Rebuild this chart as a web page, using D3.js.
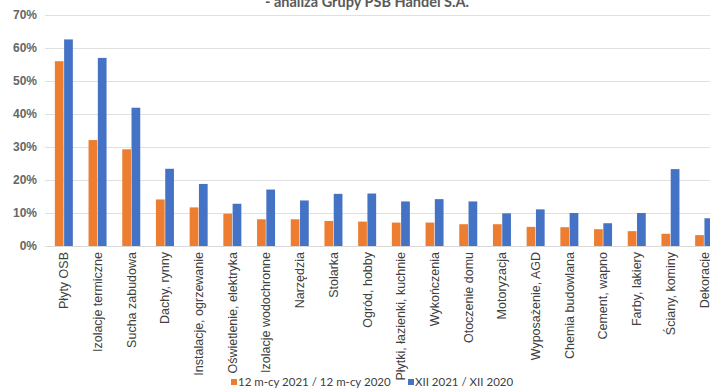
<!DOCTYPE html>
<html>
<head>
<meta charset="utf-8">
<script src="https://cdn.jsdelivr.net/npm/d3@7"></script>
<style>
  body { margin: 0; background: #fff; }
  svg { display: block; font-family: Lato, "Open Sans", sans-serif; }
</style>
</head>
<body>
<script>
const [W, H] = [710, 392];

const categories = ['Płyty OSB', 'Izolacje termiczne', 'Sucha zabudowa', 'Dachy, rynny',
    'Instalacje, ogrzewanie', 'Oświetlenie, elektryka', 'Izolacje wodochronne', 'Narzędzia',
    'Stolarka', 'Ogród, hobby', 'Płytki, łazienki, kuchnie', 'Wykończenia', 'Otoczenie domu',
    'Motoryzacja', 'Wyposażenie, AGD', 'Chemia budowlana', 'Cement, wapno', 'Farby, lakiery',
    'Ściany, kominy', 'Dekoracje'];
const yearly = [56.0, 32.1, 29.3, 14.1, 11.7, 9.8, 8.1, 8.1, 7.6, 7.4, 7.1, 7.1, 6.6, 6.6, 5.8, 5.7, 5.1, 4.5, 3.7, 3.3];
const december = [62.6, 57.0, 41.9, 23.4, 18.8, 12.8, 17.1, 13.8, 15.8, 15.9, 13.5, 14.2, 13.5, 9.9, 11.1, 10.0, 6.9, 10.0, 23.3, 8.4];
const seriesNames = ['12 m-cy 2021 / 12 m-cy 2020', 'XII 2021 / XII 2020'];
const yTicks = [0, 10, 20, 30, 40, 50, 60, 70];
const colors = ['#ED7D31', '#4472C4'];

function main() {
    const svg = d3.select('body').append('svg').attr('width', W).attr('height', H);

    const x = d3.scaleBand().domain(categories).range([47, 721]);
    const sub = d3.scaleBand().domain([0, 1]).range([x.bandwidth() / 2 - 9, x.bandwidth() / 2 + 9]).paddingInner(0.06);
    const y = d3.scaleLinear().domain([0, 70]).range([246, 15]);

    // title (top of it is cropped in the original)
    svg.append('text')
        .attr('x', 367).attr('y', 7)
        .attr('text-anchor', 'middle')
        .style('font-weight', 'bold').style('font-size', '14.5px').style('fill', '#595959')
        .text('- analiza Grupy PSB Handel S.A.');

    // grid + y labels
    const yAxis = svg.append('g').attr('transform', 'translate(45,0)')
        .call(d3.axisLeft(y).tickValues(yTicks).tickSize(-680).tickFormat(d => d + '%'));
    yAxis.select('.domain').remove();
    yAxis.selectAll('.tick line').attr('stroke', '#e0e0e0');
    yAxis.selectAll('.tick text')
        .attr('x', -8)
        .style('font-size', '12px').style('font-weight', 'bold').style('fill', '#666');

    // bars
    const groups = svg.selectAll('.cat').data(categories).enter()
        .append('g').attr('transform', d => 'translate(' + x(d) + ',0)');
    [yearly, december].forEach((vals, s) => {
        groups.append('rect')
            .attr('x', sub(s))
            .attr('width', sub.bandwidth())
            .attr('y', (d, i) => y(vals[i]))
            .attr('height', (d, i) => y(0) - y(vals[i]))
            .attr('fill', colors[s]);
    });

    // x labels
    const xAxis = svg.append('g').attr('transform', 'translate(0,246)')
        .call(d3.axisBottom(x).tickSize(0));
    xAxis.select('.domain').attr('stroke', '#d9d9d9');
    xAxis.selectAll('.tick text')
        .attr('transform', 'rotate(-90)')
        .attr('x', -6).attr('y', 0).attr('dy', '0.35em')
        .style('text-anchor', 'end')
        .style('font-size', '12.5px').style('fill', '#404040');

    // legend
    const legend = svg.append('g').attr('transform', 'translate(0,386)');
    const legendX = [231, 408];
    seriesNames.forEach((name, i) => {
        legend.append('rect').attr('x', legendX[i]).attr('y', -7).attr('width', 6).attr('height', 6).attr('fill', colors[i]);
        legend.append('text').attr('x', legendX[i] + 7).attr('y', 0)
            .style('font-size', '11.5px').style('fill', '#404040')
            .text(name);
    });
}

document.addEventListener('DOMContentLoaded', main);
</script>
</body>
</html>
